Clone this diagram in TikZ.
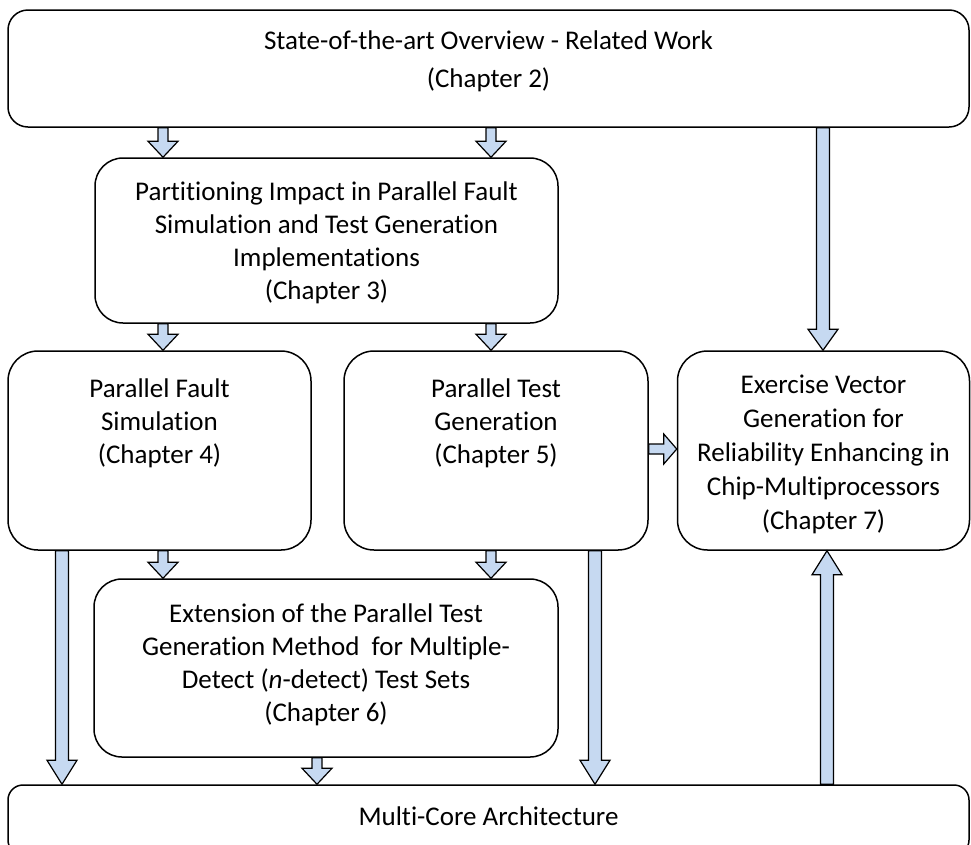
\documentclass[tikz,border=0pt]{standalone}
\usepackage{fontspec}
\setmainfont{Carlito}[Ligatures=NoCommon]
\usetikzlibrary{calc}

\definecolor{arrowfill}{RGB}{198,217,241}

\tikzset{
  box/.style={draw=black, line width=1.5pt, fill=white, align=center, inner sep=0pt,
    font=\fontsize{27pt}{33pt}\selectfont},
  boxtext/.style={align=center, inner sep=0pt, font=\fontsize{27pt}{33pt}\selectfont},
  blockarrow/.style={draw=black, line width=1.2pt, fill=arrowfill, line join=miter},
}

% Block arrows between two named nodes.
% #1 reference coordinate for the axis, #2 source node, #3 target node,
% #4 half shaft width, #5 half head width, #6 head length
\newcommand\blockdown[6]{%
  \path[blockarrow] let \p1=(#1 |- #2.south), \p2=(#1 |- #3.north) in
    (\x1-#4,\y1) -- (\x1-#4,\y2+#6) -- (\x1-#5,\y2+#6) -- (\x1,\y2)
    -- (\x1+#5,\y2+#6) -- (\x1+#4,\y2+#6) -- (\x1+#4,\y1) -- cycle;}
\newcommand\blockup[6]{%
  \path[blockarrow] let \p1=(#1 |- #2.north), \p2=(#1 |- #3.south) in
    (\x1-#4,\y1) -- (\x1-#4,\y2-#6) -- (\x1-#5,\y2-#6) -- (\x1,\y2)
    -- (\x1+#5,\y2-#6) -- (\x1+#4,\y2-#6) -- (\x1+#4,\y1) -- cycle;}
\newcommand\blockright[6]{%
  \path[blockarrow] let \p1=(#2.east |- #1), \p2=(#3.west |- #1) in
    (\x1,\y1-#4) -- (\x2-#6,\y1-#4) -- (\x2-#6,\y1-#5) -- (\x2,\y1)
    -- (\x2-#6,\y1+#5) -- (\x2-#6,\y1+#4) -- (\x1,\y1+#4) -- cycle;}

\begin{document}
\begin{tikzpicture}[x=1pt, y=-1pt]
\useasboundingbox (0,0) rectangle (971,844);

% boxes
\node[box, rounded corners=20pt, minimum width=961pt, minimum height=117pt] (top) at (488.5,68.5) {};
\node[boxtext, font=\fontsize{27pt}{38pt}\selectfont] (toptext) at (488.5,61)
  {State-of-the-art Overview - Related Work\\(Chapter 2)};

\node[box, rounded corners=28pt, minimum width=463pt, minimum height=165pt] (ch3) at (326.5,240.5) {};
\node[boxtext] (ch3text) at (326.5,243)
  {Partitioning Impact in Parallel Fault\\Simulation and Test Generation\\Implementations\\(Chapter 3)};

\node[box, rounded corners=30pt, minimum width=303pt, minimum height=199pt] (ch4) at (159.5,450.5) {};
\node[boxtext] (ch4text) at (159.5,423.5) {Parallel Fault\\Simulation\\(Chapter 4)};

\node[box, rounded corners=30pt, minimum width=304pt, minimum height=199pt] (ch5) at (496,450.5) {};
\node[boxtext] (ch5text) at (496,423.5) {Parallel Test\\Generation\\(Chapter 5)};

\node[box, rounded corners=30pt, minimum width=292pt, minimum height=199pt] (ch7) at (823.5,450.5) {};
\node[boxtext, font=\fontsize{27pt}{34pt}\selectfont] (ch7text) at (823.5,454)
  {Exercise Vector\\Generation for\\Reliability Enhancing in\\Chip-Multiprocessors\\(Chapter 7)};

\node[box, rounded corners=28pt, minimum width=464pt, minimum height=178pt] (ch6) at (326,668) {};
\node[boxtext] (ch6text) at (326,664.5)
  {Extension of the Parallel Test\\Generation Method~ for Multiple-\\Detect (\textit{n}-detect) Test Sets\\(Chapter 6)};

\node[box, rounded corners=15pt, minimum width=961pt, minimum height=70pt] (arch) at (488.5,820) {};
\node[boxtext] (archtext) at (488.5,816) {Multi-Core Architecture};

% arrow axes
\coordinate (xa) at (163,0);
\coordinate (xb) at (491,0);
\coordinate (xc) at (823,0);
\coordinate (xd) at (827,0);
\coordinate (xe) at (62,0);
\coordinate (xf) at (317,0);
\coordinate (xg) at (595,0);
\coordinate (yh) at (0,449);

% arrows
\blockdown{xa}{top}{ch3}{5pt}{15pt}{16pt}
\blockdown{xb}{top}{ch3}{5pt}{15pt}{16pt}
\blockdown{xc}{top}{ch7}{6.5pt}{15pt}{21pt}
\blockdown{xa}{ch3}{ch4}{5pt}{15pt}{16pt}
\blockdown{xb}{ch3}{ch5}{5pt}{15pt}{16pt}
\blockright{yh}{ch5}{ch7}{5pt}{15pt}{13pt}
\blockdown{xa}{ch4}{ch6}{5pt}{15pt}{16pt}
\blockdown{xb}{ch5}{ch6}{5pt}{15pt}{16pt}
\blockdown{xe}{ch4}{arch}{6.5pt}{15pt}{24pt}
\blockdown{xf}{ch6}{arch}{5pt}{15pt}{16pt}
\blockdown{xg}{ch5}{arch}{6.5pt}{15pt}{24pt}
\blockup{xd}{arch}{ch7}{6.5pt}{15pt}{24pt}
\end{tikzpicture}
\end{document}
